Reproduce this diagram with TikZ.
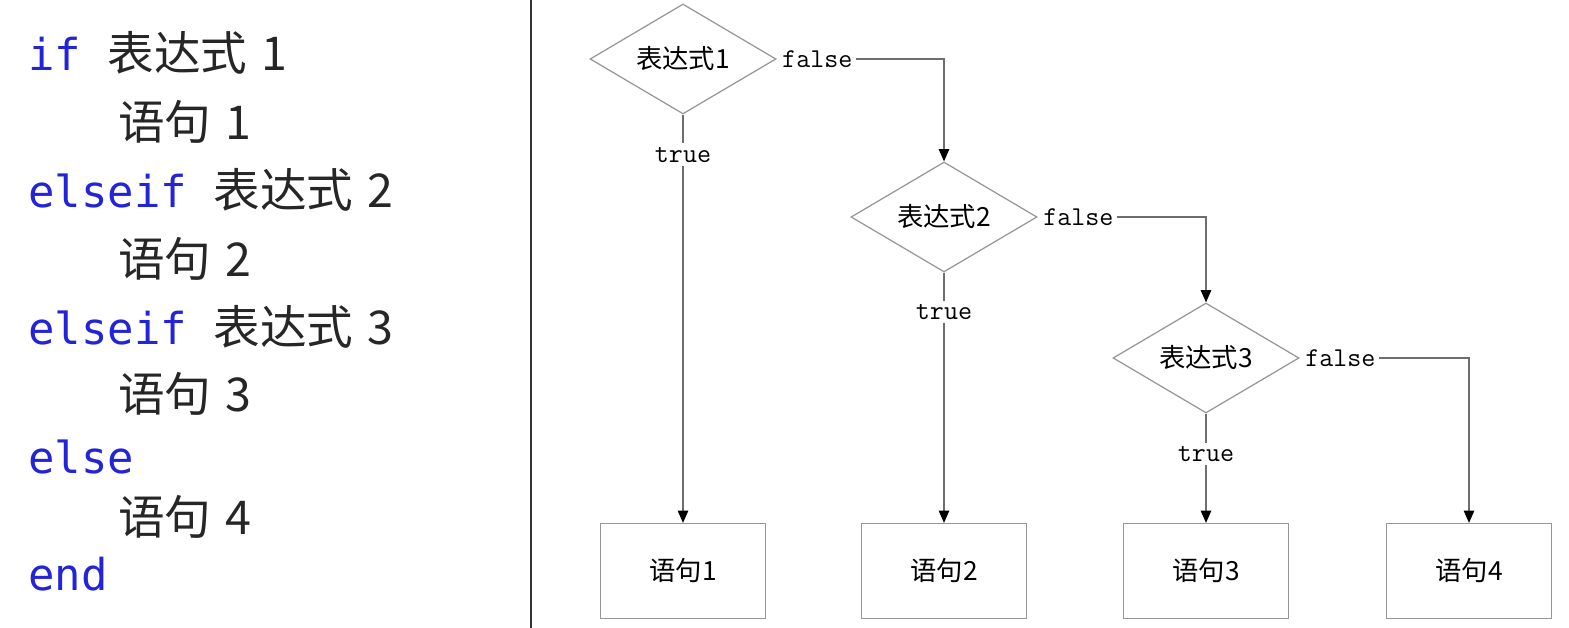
\documentclass[tikz,border=0pt]{standalone}
\usepackage{fontspec}
\newfontfamily\cjk{Noto Sans CJK SC}
\newfontfamily\codefont{DejaVu Sans Mono}
\usetikzlibrary{shapes.geometric,arrows.meta,positioning}

\definecolor{kwblue}{RGB}{35,35,215}
\definecolor{shapegray}{RGB}{150,150,150}
\definecolor{linegray}{RGB}{110,110,110}

\newcommand{\kw}[1]{{\codefont\color{kwblue}#1\ }}
\newcommand{\zh}{\cjk\fontsize{26.5}{30}\selectfont}

\tikzset{
  codeline/.style={anchor=base west,inner sep=0pt,text=black!85,font=\fontsize{25}{29}\selectfont},
  cond/.style={diamond,draw=shapegray,line width=0.7pt,minimum width=3.72cm,minimum height=2.2cm,inner sep=-8pt,font=\cjk\fontsize{15}{17}\selectfont},
  stmt/.style={rectangle,draw=shapegray,line width=0.7pt,minimum width=3.3cm,minimum height=1.9cm,font=\cjk\fontsize{15}{17}\selectfont},
  branch/.style={inner sep=2pt,font=\ttfamily\fontsize{15.5}{17}\selectfont},
  wire/.style={draw=linegray,line width=0.6pt},
  flow/.style={wire,-{Triangle[black,length=7pt,width=6pt]}},
}

\begin{document}
\begin{tikzpicture}
\useasboundingbox (0,0) rectangle (31.38,12.56);

%code on the left
\node[codeline] (l1) at (0.56,11.14) {\kw{if}\zh 表达式\hspace{0.3em}1};
\node[codeline] (l2) at (2.36,9.76) {\zh 语句\hspace{0.3em}1};
\node[codeline] (l3) at (0.56,8.40) {\kw{elseif}\zh 表达式\hspace{0.3em}2};
\node[codeline] (l4) at (2.36,7.02) {\zh 语句\hspace{0.3em}2};
\node[codeline] (l5) at (0.56,5.66) {\kw{elseif}\zh 表达式\hspace{0.3em}3};
\node[codeline] (l6) at (2.36,4.32) {\zh 语句\hspace{0.3em}3};
\node[codeline] (l7) at (0.56,3.08) {\kw{else}};
\node[codeline] (l8) at (2.36,1.86) {\zh 语句\hspace{0.3em}4};
\node[codeline] (l9) at (0.56,0.74) {\kw{end}};

%separator
\draw[line width=1pt,black!80] (10.62,0) -- (10.62,12.56);

%conditions and statements
\node[cond] (c1) at (13.66,11.38) {表达式1};
\node[cond] (c2) at (18.88,8.22) {表达式2};
\node[cond] (c3) at (24.12,5.40) {表达式3};

\node[stmt] (s1) at (13.66,1.14) {语句1};
\node[stmt] (s2) at (18.88,1.14) {语句2};
\node[stmt] (s3) at (24.12,1.14) {语句3};
\node[stmt] (s4) at (29.38,1.14) {语句4};

%false branches
\node[branch,right=1pt of c1] (f1) {false};
\node[branch,right=1pt of c2] (f2) {false};
\node[branch,right=1pt of c3] (f3) {false};

\draw[flow] (f1.east) -| (c2.north);
\draw[flow] (f2.east) -| (c3.north);
\draw[flow] (f3.east) -| (s4.north);

%true branches
\node[branch] (t1) at (13.66,9.46) {true};
\node[branch] (t2) at (18.88,6.32) {true};
\node[branch] (t3) at (24.12,3.48) {true};

\draw[wire] (c1.south) -- (t1.north);
\draw[flow] (t1.south) -- (s1.north);
\draw[wire] (c2.south) -- (t2.north);
\draw[flow] (t2.south) -- (s2.north);
\draw[wire] (c3.south) -- (t3.north);
\draw[flow] (t3.south) -- (s3.north);

\end{tikzpicture}
\end{document}
